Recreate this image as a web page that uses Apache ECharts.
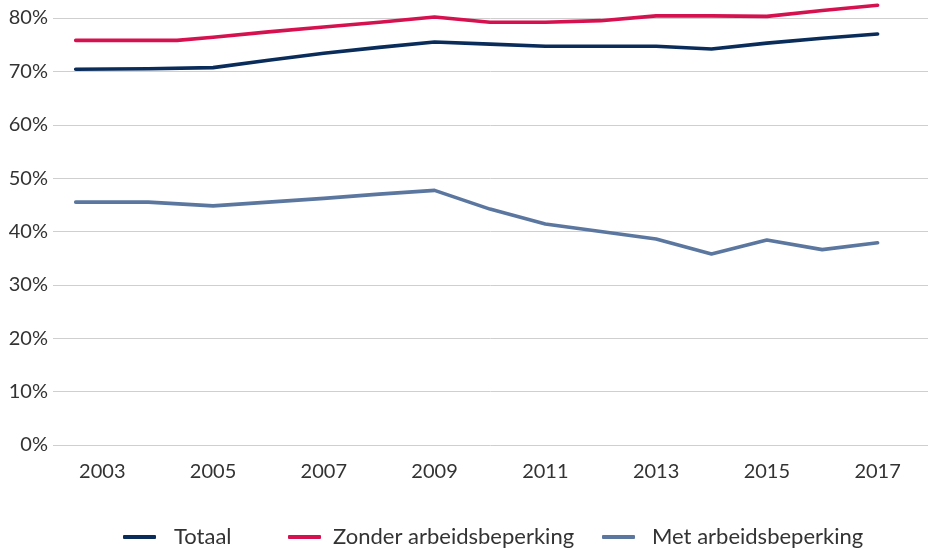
<!DOCTYPE html>
<html>
<head>
<meta charset="utf-8">
<script src="https://cdn.jsdelivr.net/npm/echarts@6/dist/echarts.min.js"></script>
<style>
  html, body { margin: 0; padding: 0; background: #fff; }
  #main { width: 929px; height: 550px; }
</style>
</head>
<body>
<div id="main"></div>
<script>
// jaren op de x-as (labels)
const yearLabels = [2003, 2005, 2007, 2009, 2011, 2013, 2015, 2017];

// [jaar, percentage]
const totaal = [
  [2002.52, 70.4], [2003.83, 70.5], [2005, 70.7], [2006, 72.1], [2007, 73.4],
  [2008, 74.5], [2009, 75.5], [2010, 75.1], [2011, 74.7], [2012, 74.7],
  [2013, 74.7], [2014, 74.2], [2015, 75.3], [2016, 76.2], [2017, 77.0]
];
const zonder = [
  [2002.52, 75.8], [2004.35, 75.8], [2005, 76.4], [2006, 77.4], [2007, 78.3],
  [2008, 79.2], [2009, 80.2], [2010, 79.2], [2011, 79.2], [2012, 79.5],
  [2013, 80.4], [2014, 80.4], [2015, 80.3], [2016, 81.4], [2017, 82.4]
];
const met = [
  [2002.52, 45.5], [2003.83, 45.5], [2005, 44.8], [2006, 45.5], [2007, 46.2],
  [2008, 47.0], [2009, 47.7], [2010, 44.2], [2011, 41.4], [2012, 40.0],
  [2013, 38.6], [2014, 35.8], [2015, 38.4], [2016, 36.6], [2017, 37.9]
];

const names = ["Totaal", "Zonder arbeidsbeperking", "Met arbeidsbeperking"];
const colors = ["#0a2c5a", "#d5114f", "#5b77a0"];
const font = "Lato, 'Noto Sans', sans-serif";

let myChart = echarts.init(document.getElementById("main"));

function legendAt(name, left, gap) {
  return {
    data: [name],
    left: left,
    top: 526,
    padding: 0,
    icon: "roundRect",
    itemWidth: 33,
    itemHeight: 4,
    itemGap: 0,
    selectedMode: false,
    textStyle: { fontFamily: font, fontSize: 22, color: "#333", padding: [0, 0, 0, gap] }
  };
}

function line(name, data, color) {
  return {
    name: name,
    type: "line",
    data: data,
    color: color,
    symbol: "none",
    clip: false,
    lineStyle: { width: 3.6, color: color, cap: "round", join: "round" }
  };
}

let option = {
  animation: false,
  grid: { left: 53, right: 1, top: 18, bottom: 105 },
  legend: [
    legendAt(names[0], 123, 13),
    legendAt(names[1], 288, 7),
    legendAt(names[2], 602, 12)
  ],
  xAxis: {
    type: "value",
    min: 2002.11,
    max: 2017.91,
    axisLine: { show: false },
    axisTick: { show: false },
    splitLine: { show: false },
    axisLabel: {
      customValues: yearLabels,
      formatter: v => String(v),
      margin: 17,
      fontFamily: font,
      fontSize: 20,
      color: "#333"
    }
  },
  yAxis: {
    type: "value",
    min: 0,
    max: 80,
    interval: 10,
    axisLine: { show: false },
    axisTick: { show: false },
    splitLine: { lineStyle: { color: "#cfcfcf", width: 1 } },
    axisLabel: {
      formatter: "{value}%",
      margin: 5,
      fontFamily: font,
      fontSize: 20,
      color: "#333"
    }
  },
  series: [
    line(names[0], totaal, colors[0]),
    line(names[1], zonder, colors[1]),
    line(names[2], met, colors[2])
  ]
};

myChart.setOption(option);
</script>
</body>
</html>
